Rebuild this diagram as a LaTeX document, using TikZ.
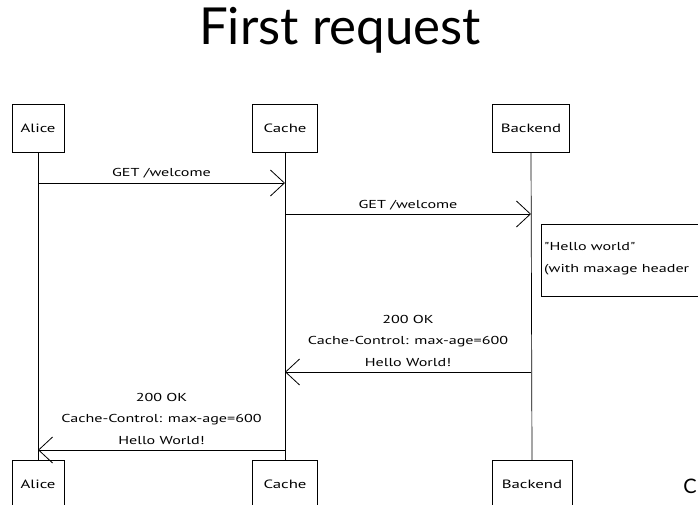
\documentclass[tikz,border=0pt]{standalone}
\usepackage{fontspec}
\setmainfont{Lato}
\newfontfamily\handfont[FakeStretch=1.4]{PT Sans}
\usetikzlibrary{arrows.meta}
\begin{document}
\begin{tikzpicture}[x=1pt,y=-1pt,
  actor/.style={draw,line width=0.8pt,minimum width=52pt,minimum height=48pt,inner sep=0pt,font=\handfont\fontsize{12}{14}\selectfont},
  life/.style={line width=0.7pt},
  msg/.style={line width=0.8pt,-{Straight Barb[length=14pt,width=26pt,line width=0.8pt]}},
  lbl/.style={font=\handfont\fontsize{11.5}{13}\selectfont,inner sep=1pt},
  multi/.style={lbl,above=4pt,align=center,font=\handfont\fontsize{11.5}{21.5}\selectfont},
  notebox/.style={draw,line width=0.8pt}]
\clip (0,0) rectangle (698,504);
\fill[white] (0,0) rectangle (698,504);
\node[font=\fontsize{51}{54}\selectfont] (title) at (340,30) {First request};
% top actors
\node[actor] (at) at (38,128) {Alice};
\node[actor,minimum width=65pt] (ct) at (285,128) {Cache};
\node[actor,minimum width=77pt] (bt) at (531,128) {Backend};
% bottom actors
\node[actor,anchor=north] (ab) at (38,460) {Alice};
\node[actor,anchor=north,minimum width=65pt] (cb) at (285,460) {Cache};
\node[actor,anchor=north,minimum width=80pt] (bb) at (532,460) {Backend};
% lifelines
\draw[life] (at.south) -- (ab.north);
\draw[life] (ct.south) -- (cb.north);
\draw[life] (bt.south) -- (bb.north);
% messages
\coordinate (m1s) at (at.south |- 0,183);
\coordinate (m1e) at (ct.south |- 0,183);
\draw[msg] (m1s) -- node[lbl,above=3pt] (l1) {GET /welcome} (m1e);
\coordinate (m2s) at (ct.south |- 0,214);
\coordinate (m2e) at (bt.south |- 0,214);
\draw[msg] (m2s) -- node[lbl,above=2pt] (l2) {GET /welcome} (m2e);
% note
\draw[notebox] (541,224) rectangle (710,296);
\node[lbl,anchor=west] (n1) at (543,247) {"Hello world"};
\node[lbl,anchor=west] (n2) at (543,270) {(with maxage header};
% responses
\coordinate (m3s) at (bt.south |- 0,372);
\coordinate (m3e) at (ct.south |- 0,372);
\draw[msg] (m3s) -- node[multi] (l3) {200 OK\\Cache-Control: max-age=600\\Hello World!} (m3e);
\coordinate (m4s) at (ct.south |- 0,450);
\coordinate (m4e) at (at.south |- 0,450);
\draw[msg] (m4s) -- node[multi] (l4) {200 OK\\Cache-Control: max-age=600\\Hello World!} (m4e);
\node[font=\fontsize{20}{22}\selectfont,anchor=east,inner sep=0pt] (c) at (697,486) {C};
\end{tikzpicture}
\end{document}
